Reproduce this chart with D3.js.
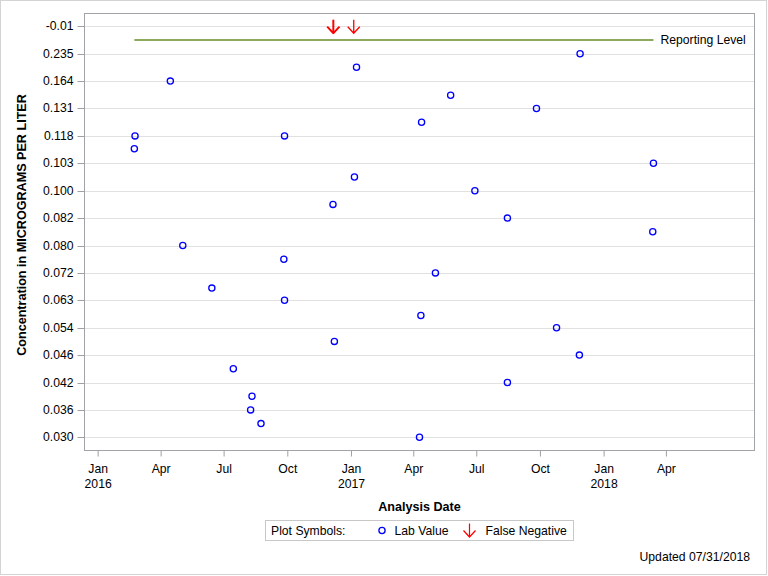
<!DOCTYPE html>
<html><head><meta charset="utf-8">
<script src="https://cdn.jsdelivr.net/npm/d3@7"></script>
<style>
body{margin:0;background:#fff}
svg text{font-family:"Liberation Sans",Arial,sans-serif;fill:#000}
</style>
</head><body><svg id="c" width="768" height="576"></svg>
<script>
// ---- data ----
const yTickLabels = ["-0.01","0.235","0.164","0.131","0.118","0.103","0.100","0.082","0.080","0.072","0.063","0.054","0.046","0.042","0.036","0.030"];
const labDates = ["2016-02-24","2016-02-23","2016-04-15","2016-05-03","2016-06-14","2016-07-15","2016-08-11","2016-08-09","2016-08-24",
  "2016-09-27","2016-09-26","2016-09-27","2016-12-06","2016-12-08","2017-01-09","2017-01-06","2017-04-13","2017-04-12","2017-04-10",
  "2017-05-03","2017-05-25","2017-06-29","2017-08-15","2017-08-15","2017-09-26","2017-10-25","2017-11-27","2017-11-28","2018-03-14","2018-03-13"];
const labValues = [0.118,0.111,0.164,0.080,0.067,0.044,0.039,0.036,0.033,
  0.118,0.076,0.063,0.091,0.050,0.200,0.1015,0.1245,0.058,0.030,
  0.072,0.147,0.100,0.082,0.042,0.131,0.054,0.046,0.235,0.103,0.081];
const falseNegDates = ["2016-12-06","2016-12-07","2017-01-05"];
const falseNegValue = "-0.01";
const reportingLevelDates = ["2016-02-23","2018-03-14"];
const reportingLevelLabel = "Reporting Level";
const xTickDates = ["2016-01-01","2016-04-01","2016-07-01","2016-10-01","2017-01-01","2017-04-01","2017-07-01","2017-10-01","2018-01-01","2018-04-01"];
const xTickMonths = ["Jan","Apr","Jul","Oct","Jan","Apr","Jul","Oct","Jan","Apr"];
const xTickYears = ["2016","","","","2017","","","","2018",""];
const xDomain = ["2015-12-13","2018-08-07"];

// ---- layout ----
const svg = d3.select("#c");
const L = 84.5, R = 754.5, T = 13.5, B = 450.5;
const parse = d3.utcParse("%Y-%m-%d");

svg.append("rect").attr("x",0.5).attr("y",0.5).attr("width",766).attr("height",574)
  .attr("fill","#fff").attr("stroke","#d4d4d4");

const x = d3.scaleUtc().domain(xDomain.map(parse)).range([L, R]);
const yRow = d3.scalePoint().domain(yTickLabels).range([26.3, 437.3]);
const numTicks = yTickLabels.slice(1);
const yVal = d3.scaleLinear().domain(numTicks.map(Number)).range(numTicks.map(d => yRow(d)));

// gridlines
svg.append("g").selectAll("line").data(yTickLabels).join("line")
  .attr("x1",L).attr("x2",R).attr("y1",d=>Math.round(yRow(d))+0.5).attr("y2",d=>Math.round(yRow(d))+0.5)
  .attr("stroke","#e1e1e1").attr("stroke-width",1);

// y axis
const yAxis = svg.append("g").attr("transform",`translate(${L},0)`)
  .call(d3.axisLeft(yRow).tickSize(7).tickPadding(4));
yAxis.select(".domain").remove();
yAxis.selectAll(".tick line").attr("stroke","#a0a0a0");
yAxis.selectAll(".tick").attr("transform", d => `translate(0,${Math.round(yRow(d))+0.5})`);
yAxis.selectAll("text").attr("font-size",12.2).attr("font-family","Liberation Sans, Arial, sans-serif").attr("fill","#000");

// x axis
const xAxis = svg.append("g").attr("transform",`translate(0,${B})`)
  .call(d3.axisBottom(x).tickValues(xTickDates.map(parse)).tickSize(6).tickFormat(""));
xAxis.select(".domain").remove();
xAxis.selectAll(".tick line").attr("stroke","#a0a0a0");
xAxis.selectAll(".tick").each(function(d,i){
  const g = d3.select(this);
  g.append("text").attr("y",22).attr("text-anchor","middle").attr("font-size",12.2).text(xTickMonths[i]);
  if (xTickYears[i]) g.append("text").attr("y",37).attr("text-anchor","middle").attr("font-size",12.2).text(xTickYears[i]);
});

// frame
svg.append("rect").attr("x",L).attr("y",T).attr("width",R-L).attr("height",B-T)
  .attr("fill","none").attr("stroke","#a0a4a8").attr("stroke-width",1);

// reporting level
const rlY = (yRow(yTickLabels[0]) + yRow(yTickLabels[1]))/2;
svg.append("line").attr("x1",x(parse(reportingLevelDates[0]))).attr("x2",x(parse(reportingLevelDates[1])))
  .attr("y1",rlY).attr("y2",rlY).attr("stroke","#8caa5c").attr("stroke-width",2.2);
svg.append("text").attr("x",x(parse(reportingLevelDates[1]))+7).attr("y",rlY+4.3)
  .attr("font-size",12.2).text(reportingLevelLabel);

// lab values
svg.append("g").selectAll("circle").data(labDates.map((d,i)=>({d:parse(d),v:labValues[i]}))).join("circle")
  .attr("cx",p=>x(p.d)).attr("cy",p=>yVal(p.v)).attr("r",3.1)
  .attr("fill","none").attr("stroke","#0000ff").attr("stroke-width",1.3);

// false negatives
function arrow(g, cx, cy, sw){
  g.append("path").attr("d",`M${cx},${cy-7}V${cy+6.5}M${cx-6},${cy}L${cx},${cy+6.5}L${cx+6},${cy}`)
    .attr("fill","none").attr("stroke","#ff0000").attr("stroke-width",sw);
}
const fnG = svg.append("g");
falseNegDates.forEach(d => arrow(fnG, x(parse(d)), yRow(falseNegValue)+0.5, 1.3));

// axis titles
svg.append("text").attr("transform",`translate(25.5,225) rotate(-90)`).attr("text-anchor","middle")
  .attr("font-size",12.6).attr("font-weight","bold").text("Concentration in MICROGRAMS PER LITER");
svg.append("text").attr("x",(L+R)/2).attr("y",510.5).attr("text-anchor","middle")
  .attr("font-size",12.6).attr("font-weight","bold").text("Analysis Date");

// legend
const lg = svg.append("g");
lg.append("rect").attr("x",265.5).attr("y",520.5).attr("width",308).attr("height",20)
  .attr("fill","#fff").attr("stroke","#c8c8c8");
lg.append("text").attr("x",271).attr("y",535).attr("font-size",12.2).text("Plot Symbols:");
lg.append("circle").attr("cx",382).attr("cy",530.5).attr("r",3.1).attr("fill","none").attr("stroke","#0000ff").attr("stroke-width",1.3);
lg.append("text").attr("x",394.5).attr("y",535).attr("font-size",12.2).text("Lab Value");
arrow(lg, 469.5, 530.5, 1.2);
lg.append("text").attr("x",485.5).attr("y",535).attr("font-size",12.2).text("False Negative");

svg.append("text").attr("x",750).attr("y",561).attr("text-anchor","end").attr("font-size",12.2).text("Updated 07/31/2018");
</script>
</body></html>
